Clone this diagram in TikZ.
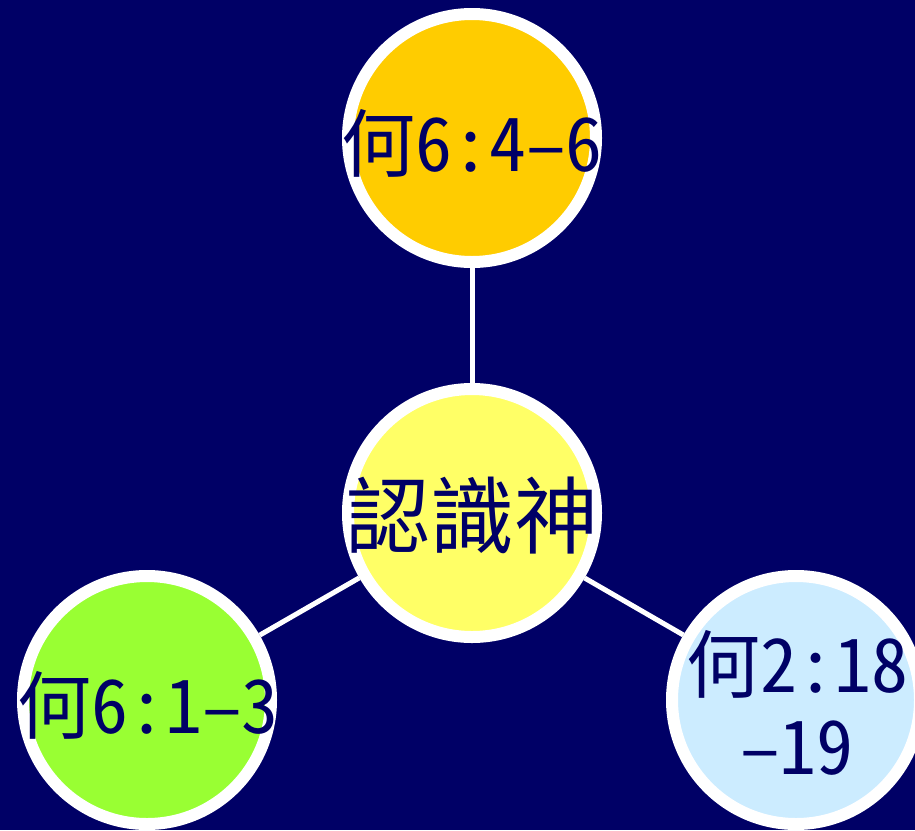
\documentclass[tikz,border=0pt]{standalone}
\usepackage{fontspec}
\setmainfont{Noto Sans CJK TC}[RawFeature=+hwid]
\definecolor{bgnavy}{HTML}{000066}
\definecolor{topgold}{HTML}{FFCC00}
\definecolor{midyellow}{HTML}{FFFF66}
\definecolor{leftgreen}{HTML}{99FF33}
\definecolor{rightblue}{HTML}{CCECFF}
\tikzset{
  ball/.style={circle, draw=white, line width=12pt, minimum size=248pt, inner sep=0pt},
  balltext/.style={text=bgnavy, inner sep=0pt, align=center, font=\fontsize{74}{82}\selectfont},
  link/.style={draw=white, line width=5pt}
}
\begin{document}
\begin{tikzpicture}[x=1pt,y=-1pt]
\useasboundingbox (0,0) rectangle (915,830);
\clip (0,0) rectangle (915,830);
\fill[bgnavy] (0,0) rectangle (915,830);
\node[ball, fill=topgold] (top) at (472,138) {};
\node[ball, fill=midyellow] (mid) at (472,513) {};
\node[ball, fill=leftgreen] (left) at (147,700) {};
\node[ball, fill=rightblue] (right) at (796,700) {};
\draw[link] (mid) -- (top);
\draw[link] (mid) -- (left);
\draw[link] (mid) -- (right);
\node[balltext] (toptext) at (472,143) {何6:4–6};
\node[balltext, font=\fontsize{84}{90}\selectfont] (midtext) at (472,516) {認識神};
\node[balltext] (lefttext) at (148,705) {何6:1–3};
\node[balltext] (righttext) at (797,703) {何2:18\\–19};
\end{tikzpicture}
\end{document}
